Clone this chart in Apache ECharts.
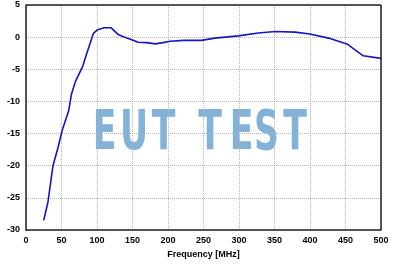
<!DOCTYPE html>
<html><head><meta charset="utf-8">
<script src="https://cdn.jsdelivr.net/npm/echarts@6/dist/echarts.min.js"></script>
<style>html,body{margin:0;padding:0;background:#fff}#c{width:394px;height:266px}</style>
</head><body><div id="c"></div>
<script>
const freq = [25,31,38,45,51,60,64,70,80,86,95,100,110,120,130,137,149,158,170,182,193,203,222,247,266,299,327,351,379,400,426,452,475,500];
const gain = [-28.5,-25.6,-20,-17.2,-14.5,-11.5,-8.9,-6.8,-4.5,-2.4,0.6,1.1,1.45,1.45,0.4,0.05,-0.4,-0.8,-0.85,-1.05,-0.85,-0.65,-0.5,-0.5,-0.15,0.2,0.65,0.88,0.78,0.5,-0.15,-1.05,-2.9,-3.3];
const xName = 'Frequency [MHz]';
const watermark = ['E','U','T','T','E','S','T'];
const wmX = [104.5,134,163.5,210,241.7,266.5,295];

const chart = echarts.init(document.getElementById('c'));
const lab = {color:'#000', fontWeight:'bold', fontSize:9, fontFamily:'Liberation Sans, Arial, sans-serif'};
const grid = {left:26, right:13, top:5, bottom:36};
chart.setOption({
  animation:false,
  grid: grid,
  graphic: watermark.map((t,i)=>({type:'text', x:wmX[i], y:135, scaleX:0.7, z:-1, style:{text:t, fill:'rgba(118,170,212,0.9)', font:'bold 55px "DejaVu Sans Condensed", "DejaVu Sans", sans-serif', textAlign:'center', textVerticalAlign:'middle'}})),
  xAxis: {type:'value', min:0, max:500, interval:50, name:xName, nameLocation:'middle', nameGap:13,
    nameTextStyle:{...lab},
    axisLine:{show:true, onZero:false, lineStyle:{color:'#222', width:1.5}},
    axisTick:{show:false}, axisLabel:{...lab, margin:6},
    splitLine:{show:true, lineStyle:{color:'#b4b4b4', type:[1,1], width:1}}},
  yAxis: {type:'value', min:-30, max:5, interval:5,
    axisLine:{show:true, onZero:false, lineStyle:{color:'#222', width:1.5}},
    axisTick:{show:false}, axisLabel:{...lab, margin:6},
    splitLine:{show:true, lineStyle:{color:'#b4b4b4', type:[1,1], width:1}}},
  series:[
    {type:'line', data:freq.map((f,i)=>[f,gain[i]]), symbol:'none', smooth:false,
     lineStyle:{color:'#1515c8', width:1.6}, z:3},
    {type:'line', data:[], markLine:{silent:true, symbol:'none', label:{show:false},
      lineStyle:{color:'#222', width:1.5, type:'solid'},
      data:[[{coord:[0,5]},{coord:[500,5]}],[{coord:[500,5]},{coord:[500,-30]}]]}}
  ]
});
</script></body></html>
